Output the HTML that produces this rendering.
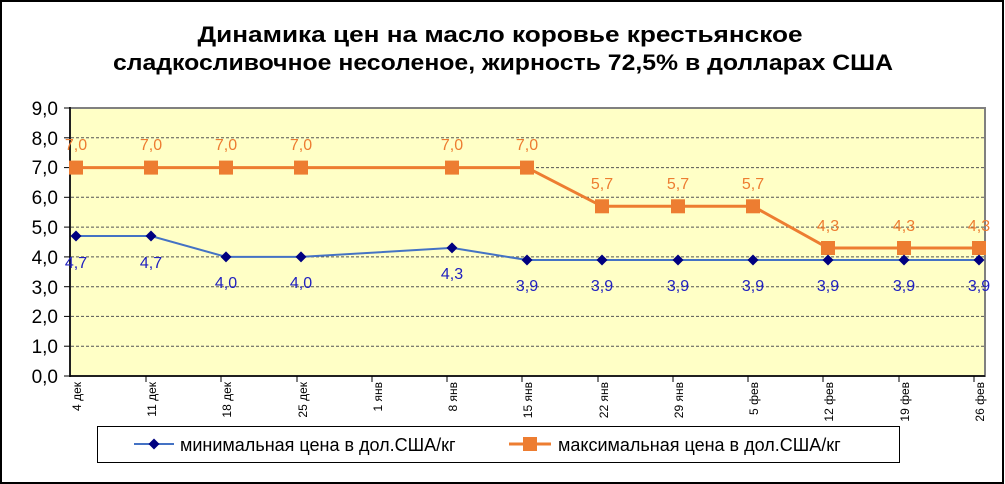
<!DOCTYPE html>
<html><head><meta charset="utf-8"><style>
html,body{margin:0;padding:0;background:#fff}
svg{display:block;font-family:"Liberation Sans",Arial,sans-serif}
</style></head><body>
<svg width="1005" height="484" viewBox="0 0 1005 484" xmlns="http://www.w3.org/2000/svg">
<rect x="1" y="1" width="1002" height="482" fill="#fff" stroke="#000" stroke-width="2"/>
<text x="500" y="42" text-anchor="middle" font-size="22" font-weight="bold" textLength="605" lengthAdjust="spacingAndGlyphs">Динамика цен на масло коровье крестьянское</text>
<text x="503" y="70" text-anchor="middle" font-size="22" font-weight="bold" textLength="780" lengthAdjust="spacingAndGlyphs">сладкосливочное несоленое, жирность 72,5% в долларах США</text>
<rect x="70" y="108" width="915" height="268" fill="#ffffc6" stroke="#808080" stroke-width="2"/>
<g stroke="#555" stroke-width="1" stroke-dasharray="3,2">
<line x1="71" x2="984" y1="137.8" y2="137.8"/><line x1="71" x2="984" y1="167.6" y2="167.6"/>
<line x1="71" x2="984" y1="197.3" y2="197.3"/><line x1="71" x2="984" y1="227.1" y2="227.1"/>
<line x1="71" x2="984" y1="256.9" y2="256.9"/><line x1="71" x2="984" y1="286.7" y2="286.7"/>
<line x1="71" x2="984" y1="316.4" y2="316.4"/><line x1="71" x2="984" y1="346.2" y2="346.2"/>
</g>
<line x1="70" y1="107" x2="70" y2="377" stroke="#000" stroke-width="1.5"/>
<line x1="70" y1="376" x2="985" y2="376" stroke="#000" stroke-width="1.5"/>
<g stroke="#000" stroke-width="1">
<line x1="64" x2="70" y1="108" y2="108"/><line x1="64" x2="70" y1="137.8" y2="137.8"/><line x1="64" x2="70" y1="167.6" y2="167.6"/><line x1="64" x2="70" y1="197.3" y2="197.3"/><line x1="64" x2="70" y1="227.1" y2="227.1"/><line x1="64" x2="70" y1="256.9" y2="256.9"/><line x1="64" x2="70" y1="286.7" y2="286.7"/><line x1="64" x2="70" y1="316.4" y2="316.4"/><line x1="64" x2="70" y1="346.2" y2="346.2"/><line x1="64" x2="70" y1="376" y2="376"/>
<line x1="146" x2="146" y1="376" y2="382"/><line x1="221" x2="221" y1="376" y2="382"/><line x1="297" x2="297" y1="376" y2="382"/><line x1="372" x2="372" y1="376" y2="382"/><line x1="447" x2="447" y1="376" y2="382"/><line x1="522" x2="522" y1="376" y2="382"/><line x1="598" x2="598" y1="376" y2="382"/><line x1="673" x2="673" y1="376" y2="382"/><line x1="748" x2="748" y1="376" y2="382"/><line x1="823" x2="823" y1="376" y2="382"/><line x1="899" x2="899" y1="376" y2="382"/><line x1="974" x2="974" y1="376" y2="382"/>
</g>
<g font-size="19" text-anchor="end" fill="#000">
<text x="58" y="115">9,0</text><text x="58" y="145">8,0</text><text x="58" y="174">7,0</text><text x="58" y="204">6,0</text><text x="58" y="234">5,0</text><text x="58" y="264">4,0</text><text x="58" y="294">3,0</text><text x="58" y="323">2,0</text><text x="58" y="353">1,0</text><text x="58" y="383">0,0</text>
</g>
<g font-size="12" text-anchor="end" fill="#000">
<text transform="translate(81,382) rotate(-90)">4 дек</text>
<text transform="translate(156,382) rotate(-90)">11 дек</text>
<text transform="translate(231,382) rotate(-90)">18 дек</text>
<text transform="translate(307,382) rotate(-90)">25 дек</text>
<text transform="translate(382,382) rotate(-90)">1 янв</text>
<text transform="translate(457,382) rotate(-90)">8 янв</text>
<text transform="translate(532,382) rotate(-90)">15 янв</text>
<text transform="translate(608,382) rotate(-90)">22 янв</text>
<text transform="translate(683,382) rotate(-90)">29 янв</text>
<text transform="translate(758,382) rotate(-90)">5 фев</text>
<text transform="translate(833,382) rotate(-90)">12 фев</text>
<text transform="translate(909,382) rotate(-90)">19 фев</text>
<text transform="translate(984,382) rotate(-90)">26 фев</text>
</g>
<polyline fill="none" stroke="#ed7d31" stroke-width="3" points="76,167.6 151,167.6 226,167.6 301,167.6 452,167.6 527,167.6 602,206.3 678,206.3 753,206.3 828,248 904,248 979,248"/>
<g fill="#ed7d31">
<rect x="69" y="160.6" width="14" height="14"/><rect x="144" y="160.6" width="14" height="14"/><rect x="219" y="160.6" width="14" height="14"/><rect x="294" y="160.6" width="14" height="14"/><rect x="445" y="160.6" width="14" height="14"/><rect x="520" y="160.6" width="14" height="14"/><rect x="595" y="199.3" width="14" height="14"/><rect x="671" y="199.3" width="14" height="14"/><rect x="746" y="199.3" width="14" height="14"/><rect x="821" y="241" width="14" height="14"/><rect x="897" y="241" width="14" height="14"/><rect x="972" y="241" width="14" height="14"/>
</g>
<g font-size="16" fill="#ed7d31" text-anchor="middle">
<text x="76" y="150">7,0</text><text x="151" y="150">7,0</text><text x="226" y="150">7,0</text><text x="301" y="150">7,0</text><text x="452" y="150">7,0</text><text x="527" y="150">7,0</text><text x="602" y="189">5,7</text><text x="678" y="189">5,7</text><text x="753" y="189">5,7</text><text x="828" y="231">4,3</text><text x="904" y="231">4,3</text><text x="979" y="231">4,3</text>
</g>
<polyline fill="none" stroke="#4472c4" stroke-width="2" points="76,236 151,236 226,256.9 301,256.9 452,247.9 527,260 602,260 678,260 753,260 828,260 904,260 979,260"/>
<g fill="#000080">
<path d="M76,230.5l5.5,5.5l-5.5,5.5l-5.5,-5.5z"/><path d="M151,230.5l5.5,5.5l-5.5,5.5l-5.5,-5.5z"/><path d="M226,251.4l5.5,5.5l-5.5,5.5l-5.5,-5.5z"/><path d="M301,251.4l5.5,5.5l-5.5,5.5l-5.5,-5.5z"/><path d="M452,242.4l5.5,5.5l-5.5,5.5l-5.5,-5.5z"/>
<path d="M527,254.5l5.5,5.5l-5.5,5.5l-5.5,-5.5z"/><path d="M602,254.5l5.5,5.5l-5.5,5.5l-5.5,-5.5z"/><path d="M678,254.5l5.5,5.5l-5.5,5.5l-5.5,-5.5z"/><path d="M753,254.5l5.5,5.5l-5.5,5.5l-5.5,-5.5z"/><path d="M828,254.5l5.5,5.5l-5.5,5.5l-5.5,-5.5z"/><path d="M904,254.5l5.5,5.5l-5.5,5.5l-5.5,-5.5z"/><path d="M979,254.5l5.5,5.5l-5.5,5.5l-5.5,-5.5z"/>
</g>
<g font-size="16" fill="#2020c0" text-anchor="middle">
<text x="76" y="268">4,7</text><text x="151" y="268">4,7</text><text x="226" y="288">4,0</text><text x="301" y="288">4,0</text><text x="452" y="279">4,3</text><text x="527" y="291">3,9</text><text x="602" y="291">3,9</text><text x="678" y="291">3,9</text><text x="753" y="291">3,9</text><text x="828" y="291">3,9</text><text x="904" y="291">3,9</text><text x="979" y="291">3,9</text>
</g>
<rect x="97.5" y="426.5" width="802" height="36" fill="#fff" stroke="#000" stroke-width="1"/>
<line x1="134" y1="444" x2="174" y2="444" stroke="#4472c4" stroke-width="2"/>
<path d="M154,438.5l5.5,5.5l-5.5,5.5l-5.5,-5.5z" fill="#000080"/>
<text x="180" y="451" font-size="18">минимальная  цена в дол.США/кг</text>
<line x1="509" y1="444" x2="551" y2="444" stroke="#ed7d31" stroke-width="3"/>
<rect x="523" y="437" width="14" height="14" fill="#ed7d31"/>
<text x="558" y="451" font-size="18">максимальная цена в дол.США/кг</text>
</svg>
</body></html>
